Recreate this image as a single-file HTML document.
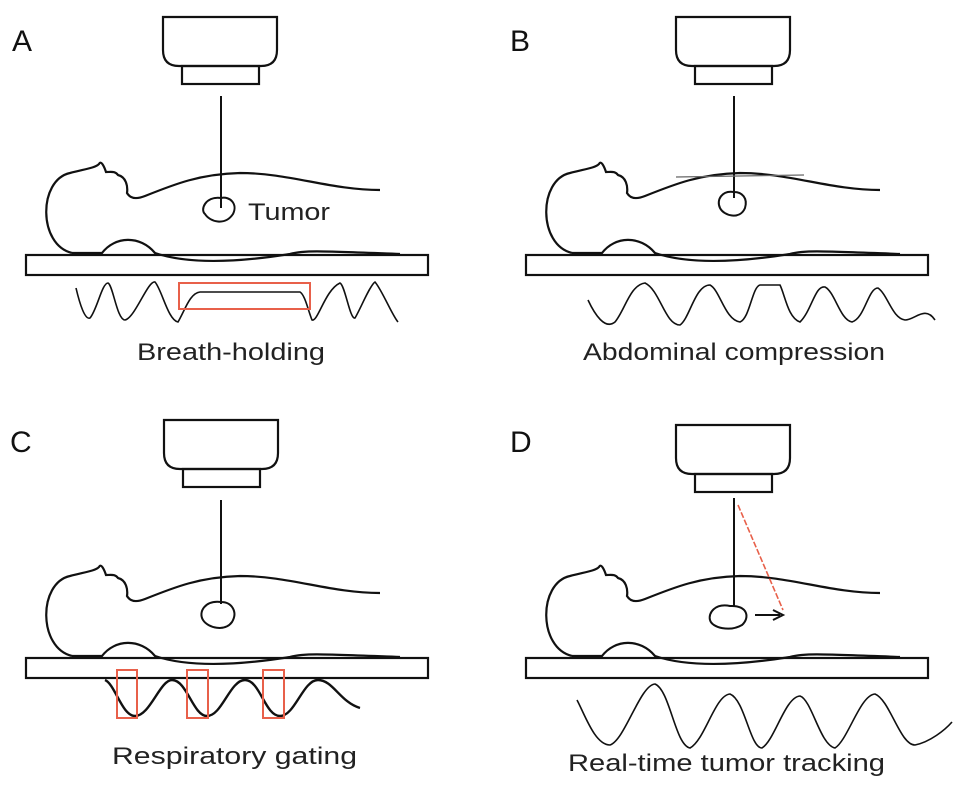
<!DOCTYPE html>
<html><head><style>body{margin:0;background:#fff}svg{display:block}</style></head><body>
<svg width="969" height="805" viewBox="0 0 969 805" xmlns="http://www.w3.org/2000/svg" font-family="Liberation Sans, sans-serif">
<defs>
<g id="mach" fill="none" stroke="#111" stroke-width="2.2">
<path d="M163,17 H277 V50 Q277,66 261,66 H179 Q163,66 163,50 Z"/>
<rect x="182" y="66" width="77" height="18"/>
</g>
<g id="body" fill="none" stroke="#111" stroke-width="2.2">
<path d="M72,253 C38,245 38,180 70,173 C85,169 95,168 99,164 C101,160 104,166 106,172 C112,172 115,171 118,175 C126,177 128,186 127,193 C130,198 135,200 145,196 C175,184 200,174 240,173 C290,173 330,190 380,190"/>
<path d="M72,253 H102 C115,236 140,235 155,253 C190,265 240,262 290,254 C305,250 320,251 400,254"/>
<rect x="26" y="255" width="402" height="20"/>
</g>
</defs>
<g font-size="30" fill="#111"><text x="12" y="51">A</text><text x="510" y="51">B</text><text x="10" y="452">C</text><text x="510" y="452">D</text></g>
<g font-size="24" fill="#222" lengthAdjust="spacingAndGlyphs">
<text x="137" y="360" textLength="188" lengthAdjust="spacingAndGlyphs">Breath-holding</text>
<text x="583" y="360" textLength="302" lengthAdjust="spacingAndGlyphs">Abdominal compression</text>
<text x="112" y="764" textLength="245" lengthAdjust="spacingAndGlyphs">Respiratory gating</text>
<text x="568" y="771" textLength="317" lengthAdjust="spacingAndGlyphs">Real-time tumor tracking</text>
<text x="248" y="220" textLength="82" lengthAdjust="spacingAndGlyphs">Tumor</text>
</g>
<!-- A -->
<use href="#mach"/><use href="#body"/>
<g fill="none" stroke="#111" stroke-width="2">
<line x1="221" y1="96" x2="221" y2="208"/>
<path d="M221,198 C205,196 200,210 205,214 C210,222 225,226 233,214 C238,204 230,196 221,198 Z"/>
<path d="M76,288 C80,305 85,320 90,318 C97,310 102,283 108,283 C113,285 117,320 125,320 C135,318 148,280 155,282 C162,290 168,320 178,322 C185,310 190,293 200,292 H300 C305,295 308,310 312,320 C318,322 325,290 340,283 C345,285 350,320 355,318 C360,310 370,285 375,282 C382,290 392,315 398,322" stroke-width="1.6"/>
</g>
<rect x="179" y="283" width="131" height="26" fill="none" stroke="#e8604a" stroke-width="2"/>
<!-- B -->
<use href="#mach" x="513"/><use href="#body" x="500"/>
<g fill="none" stroke="#111" stroke-width="2">
<line x1="734" y1="96" x2="734" y2="198"/>
<line x1="676" y1="177" x2="804" y2="175" stroke-width="1.2" stroke="#666"/>
<path d="M734,192 C722,190 716,200 720,208 C724,216 740,220 745,208 C748,198 742,192 734,192 Z"/>
<path d="M588,300 C595,315 605,330 615,322 C625,310 630,285 645,283 C660,290 665,325 680,325 C690,318 695,285 710,285 C720,290 725,320 740,322 C750,318 752,287 760,285 H780 C785,295 788,318 800,322 C812,310 815,285 825,287 C835,292 840,320 852,322 C865,318 868,288 878,288 C888,295 892,318 905,320 C915,320 925,305 935,320" stroke-width="1.6"/>
</g>
<!-- C -->
<use href="#mach" x="1" y="403"/><use href="#body" y="403"/>
<g fill="none" stroke="#111" stroke-width="2">
<line x1="221" y1="500" x2="221" y2="604"/>
<path d="M221,602 C205,600 198,612 203,620 C208,628 225,632 232,622 C238,612 232,602 221,602 Z"/>
<path d="M105,680 C115,684 122,716 135,716 C150,716 160,680 172,680 C187,680 193,716 207,716 C222,716 230,680 245,680 C260,680 265,716 280,716 C295,716 303,680 318,680 C333,680 340,702 360,708" stroke-width="2.4"/>
</g>
<g fill="none" stroke="#e8604a" stroke-width="2"><rect x="117" y="670" width="20" height="48"/><rect x="187" y="670" width="21" height="48"/><rect x="263" y="670" width="21" height="48"/></g>
<!-- D -->
<use href="#mach" x="513" y="408"/><use href="#body" x="500" y="403"/>
<g fill="none" stroke="#111" stroke-width="2">
<line x1="734" y1="498" x2="734" y2="607"/>
<path d="M730,606 C715,603 708,613 710,620 C712,628 730,632 742,625 C750,618 748,605 730,606 Z"/>
<line x1="755" y1="615" x2="780" y2="615"/>
<path d="M773,610 L783,615 L773,620"/>
<path d="M577,700 C585,715 595,745 610,745 C625,740 640,685 655,684 C670,690 675,745 690,748 C705,740 715,695 730,694 C745,700 750,748 762,748 C775,740 785,697 800,696 C812,700 820,745 835,748 C848,740 860,695 875,694 C890,700 900,745 915,745 C930,742 945,730 952,722" stroke-width="1.6"/>
</g>
<line x1="738" y1="505" x2="783" y2="610" stroke="#e8604a" stroke-width="1.6" stroke-dasharray="6,2"/>
</svg>
</body></html>
